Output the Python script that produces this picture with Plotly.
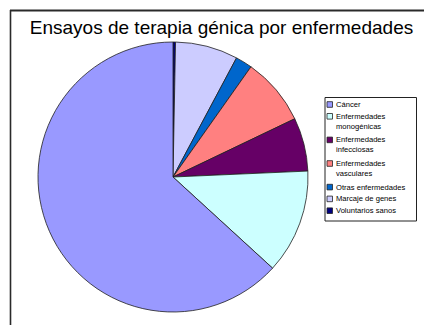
import plotly.graph_objects as go

labels = ["Cáncer", "Enfermedades<br>monogénicas", "Enfermedades<br>infecciosas",
          "Enfermedades<br>vasculares", "Otras enfermedades", "Marcaje de genes",
          "Voluntarios sanos"]
values = [63.2, 12.5, 6.4, 8.1, 2.0, 7.5, 0.3]
colors = ["#9999FF", "#CCFFFF", "#660066", "#FF8080", "#0066CC", "#CCCCFF", "#000080"]
title_text = "Ensayos de terapia génica por enfermedades"

W, H = 424, 325
cx, cy, r = 173, 177, 135


def px(x):
    return x / W


def py(y):
    return 1 - y / H


# Excel draws the series counter-clockwise from 12 o'clock; reversing the series
# and drawing clockwise from 12 o'clock gives the same arrangement.
fig = go.Figure(go.Pie(
    labels=[l.replace("<br>", " ") for l in labels[::-1]], values=values[::-1],
    sort=False, direction="clockwise", rotation=0, textinfo="none",
    hoverinfo="label+percent", showlegend=False,
    marker=dict(colors=colors[::-1], line=dict(color="#202020", width=0.8)),
    domain=dict(x=[px(cx - r), px(cx + r)], y=[py(cy + r), py(cy - r)]),
))

shapes = [
    # outer frame: top and left edges
    dict(type="line", xref="paper", yref="paper", x0=px(10), x1=px(424), y0=py(10.5), y1=py(10.5),
         line=dict(color="#2a2a2a", width=2), layer="above"),
    dict(type="line", xref="paper", yref="paper", x0=px(10.5), x1=px(10.5), y0=py(325), y1=py(10),
         line=dict(color="#2a2a2a", width=1.6), layer="above"),
    # legend box
    dict(type="rect", xref="paper", yref="paper", x0=px(325), x1=px(416.5), y0=py(221), y1=py(97.5),
         line=dict(color="#222222", width=1), fillcolor="white", layer="above"),
]
annotations = []
line_h = 11.8
yc = 104.5
for lab, col in zip(labels, colors):
    shapes.append(dict(type="rect", xref="paper", yref="paper",
                       x0=px(327), x1=px(332.5), y0=py(yc + 2.8), y1=py(yc - 2.8),
                       line=dict(color="#222222", width=0.8), fillcolor=col, layer="above"))
    annotations.append(dict(text=lab, xref="paper", yref="paper", x=px(334.5), y=py(yc - 5.6),
                            xanchor="left", yanchor="top", align="left", showarrow=False,
                            borderpad=0, font=dict(size=7.6, color="black")))
    yc += line_h * (lab.count("<br>") + 1)

fig.update_layout(
    width=W, height=H, margin=dict(l=0, r=0, t=0, b=0),
    paper_bgcolor="white", plot_bgcolor="white", showlegend=False,
    font=dict(family="Liberation Sans, Arial, sans-serif", color="black"),
    title=dict(text=title_text, x=221.5 / W, xanchor="center",
               y=py(27), yanchor="middle", yref="container",
               font=dict(size=19, family="Liberation Sans, Arial, sans-serif", color="black")),
    shapes=shapes, annotations=annotations,
)

fig.write_html("out.html")
